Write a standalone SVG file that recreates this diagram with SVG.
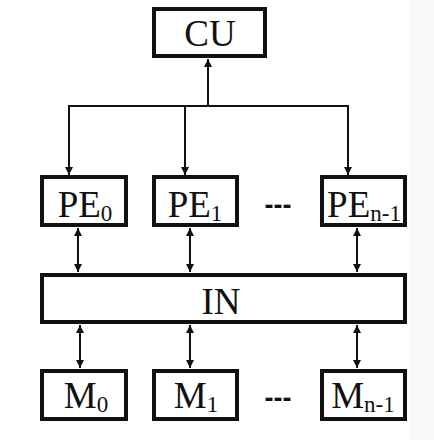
<svg xmlns="http://www.w3.org/2000/svg" width="434" height="440" viewBox="0 0 434 440">
<defs>
<marker id="ah" viewBox="0 0 10 10" refX="10" refY="5" markerWidth="5" markerHeight="4" orient="auto-start-reverse" markerUnits="strokeWidth">
<path d="M0,0 L10,5 L0,10 z" fill="#111"/>
</marker>
<style>
.box{fill:#fff;stroke:#111;stroke-width:4}
.ln{fill:none;stroke:#111;stroke-width:2}
.t{font-family:"Liberation Serif","Times New Roman",serif;font-size:37px;fill:#111;text-anchor:middle}
.s{font-size:23px}
.d{font-family:"Liberation Sans",Arial,sans-serif;font-size:27px;font-weight:bold;fill:#111;text-anchor:middle}
</style>
</defs>
<rect width="434" height="440" fill="#fff"/>
<rect x="410" y="0" width="24" height="440" fill="#f7f8fa"/>
<g id="connectors">
<line class="ln" x1="208" y1="106" x2="208" y2="59" marker-end="url(#ah)"/>
<polyline class="ln" points="69,175 69,106 348,106 348,175" marker-start="url(#ah)" marker-end="url(#ah)"/>
<line class="ln" x1="185" y1="106" x2="185" y2="175" marker-end="url(#ah)"/>
<line class="ln" x1="78" y1="228" x2="78" y2="272" marker-start="url(#ah)" marker-end="url(#ah)"/>
<line class="ln" x1="190" y1="228" x2="190" y2="272" marker-start="url(#ah)" marker-end="url(#ah)"/>
<line class="ln" x1="357" y1="228" x2="357" y2="272" marker-start="url(#ah)" marker-end="url(#ah)"/>
<line class="ln" x1="80" y1="325" x2="80" y2="368" marker-start="url(#ah)" marker-end="url(#ah)"/>
<line class="ln" x1="190" y1="325" x2="190" y2="368" marker-start="url(#ah)" marker-end="url(#ah)"/>
<line class="ln" x1="357" y1="325" x2="357" y2="368" marker-start="url(#ah)" marker-end="url(#ah)"/>
</g>
<g id="CU"><rect class="box" x="154" y="9" width="111" height="47"/><text class="t" x="210" y="46">CU</text></g>
<g id="PE0"><rect class="box" x="42" y="177" width="84" height="48"/><text class="t" x="85" y="217">PE<tspan class="s" dy="4">0</tspan></text></g>
<g id="PE1"><rect class="box" x="154" y="177" width="83" height="48"/><text class="t" x="195" y="217">PE<tspan class="s" dy="4">1</tspan></text></g>
<g id="PEn1"><rect class="box" x="322" y="177" width="83" height="48"/><text class="t" x="364" y="217">PE<tspan class="s" dy="4">n-1</tspan></text></g>
<text class="d" x="278" y="214">---</text>
<g id="IN"><rect class="box" x="42" y="275" width="363" height="47"/><text class="t" x="221" y="314">IN</text></g>
<g id="M0"><rect class="box" x="42" y="371" width="84" height="48"/><text class="t" x="86" y="408">M<tspan class="s" dy="4">0</tspan></text></g>
<g id="M1"><rect class="box" x="154" y="371" width="83" height="48"/><text class="t" x="196" y="408">M<tspan class="s" dy="4">1</tspan></text></g>
<g id="Mn1"><rect class="box" x="322" y="371" width="83" height="48"/><text class="t" x="363" y="408">M<tspan class="s" dy="4">n-1</tspan></text></g>
<text class="d" x="278" y="407">---</text>
</svg>
